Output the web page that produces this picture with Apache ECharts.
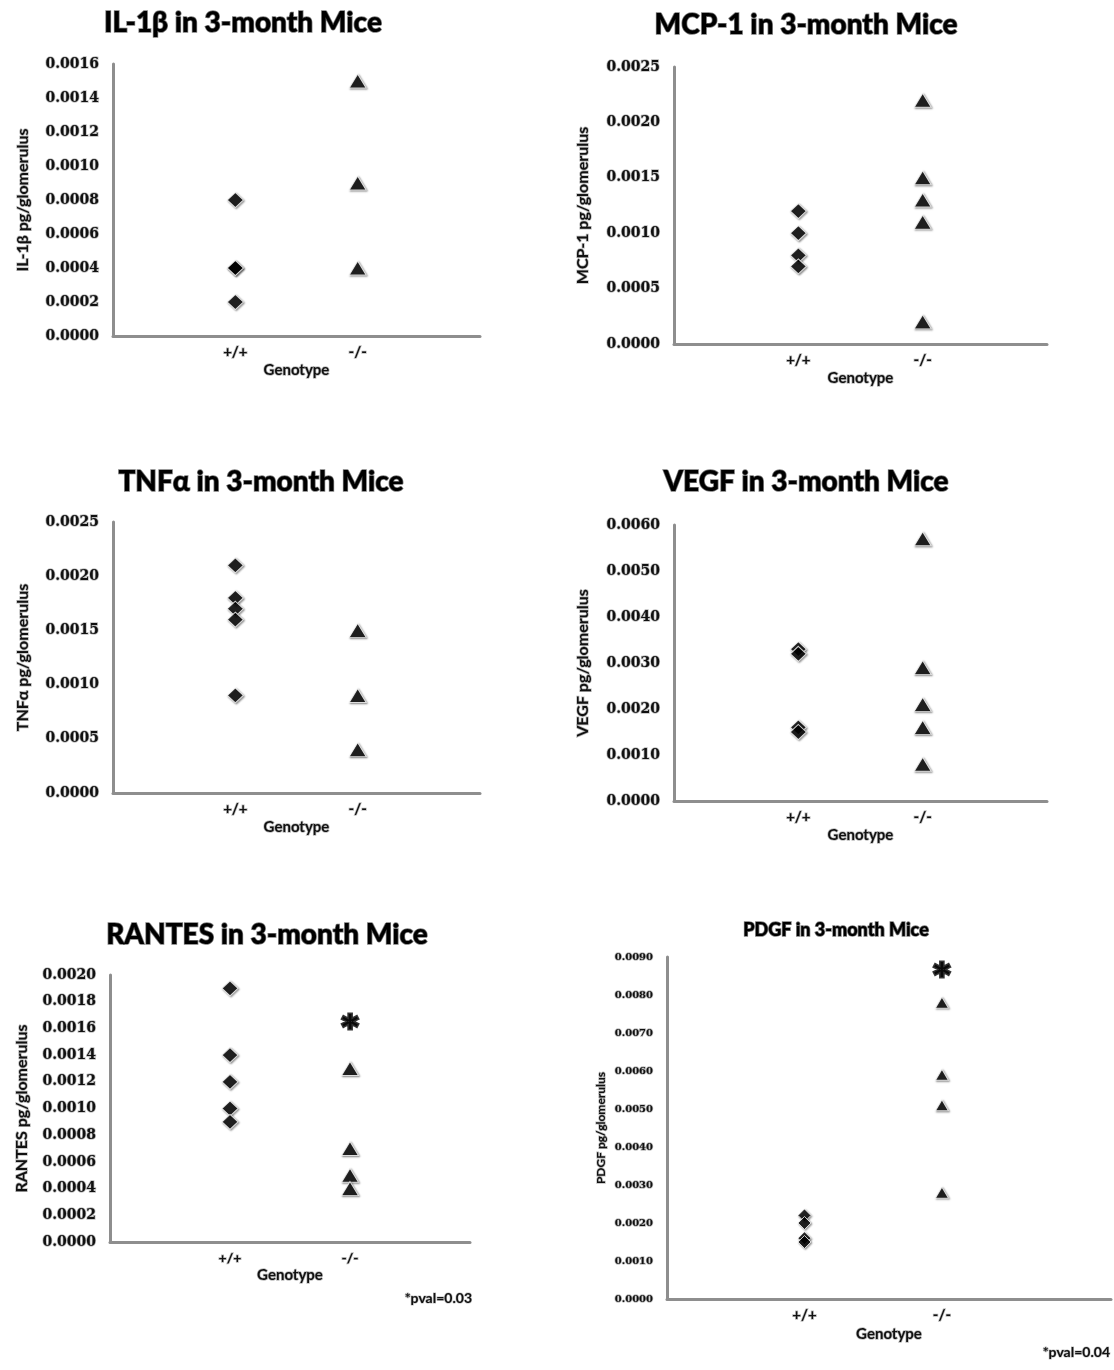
<!DOCTYPE html>
<html>
<head>
<meta charset="utf-8">
<script src="https://cdn.jsdelivr.net/npm/echarts@6/dist/echarts.min.js"></script>
<style>
html,body{margin:0;padding:0;background:#fff;}
#chart{width:1114px;height:1370px;}
</style>
</head>
<body>
<div id="chart"></div>
<script>
// ---- data ----
const genotypes = ['+/+', '-/-'];

const il1bWT = [0.0008, 0.0004, 0.0004, 0.0002];
const il1bKO = [0.0015, 0.0009, 0.0004];

const mcp1WT = [0.0012, 0.0010, 0.0008, 0.0007];
const mcp1KO = [0.0022, 0.0015, 0.0013, 0.0011, 0.0002];

const tnfWT = [0.0021, 0.0018, 0.0017, 0.0016, 0.0009];
const tnfKO = [0.0015, 0.0009, 0.0004];

const vegfWT = [0.0033, 0.0032, 0.0016, 0.0015];
const vegfKO = [0.0057, 0.0029, 0.0021, 0.0016, 0.0008];

const rantesWT = [0.0019, 0.0014, 0.0012, 0.0010, 0.0009];
const rantesKO = [0.0013, 0.0007, 0.0005, 0.0004];
const rantesStar = [0.00166];

const pdgfWT = [0.0022, 0.0020, 0.0016, 0.0015];
const pdgfKO = [0.0078, 0.0059, 0.0051, 0.0028];
const pdgfStar = [0.0087];

const titles = ['IL-1β in 3-month Mice', 'MCP-1 in 3-month Mice', 'TNFα in 3-month Mice',
                'VEGF in 3-month Mice', 'RANTES in 3-month Mice', 'PDGF in 3-month Mice'];
const yNames = ['IL-1β pg/glomerulus', 'MCP-1 pg/glomerulus', 'TNFα pg/glomerulus',
                'VEGF pg/glomerulus', 'RANTES pg/glomerulus', 'PDGF pg/glomerulus'];
const yMax = [0.0016, 0.0025, 0.0025, 0.0060, 0.0020, 0.0090];
const yStep = [0.0002, 0.0005, 0.0005, 0.0010, 0.0002, 0.0010];
const xName = 'Genotype';
const pvalNotes = ['*pval=0.03', '*pval=0.04'];

// ---- layout ----
const panels = [
  {wt: il1bWT, ko: il1bKO, star: null,
   grid: {left: 113, top: 64, width: 367, height: 272}, xMax: 3,
   title: [243, 23, 28], tickFont: 14, nameFont: 16, nameGap: 82, xFont: 15, xNameGap: 27},
  {wt: mcp1WT, ko: mcp1KO, star: null,
   grid: {left: 674, top: 67, width: 373, height: 277}, xMax: 3,
   title: [806, 25, 28], tickFont: 14, nameFont: 16, nameGap: 83, xFont: 15, xNameGap: 27},
  {wt: tnfWT, ko: tnfKO, star: null,
   grid: {left: 113, top: 522, width: 367, height: 271}, xMax: 3,
   title: [261, 482, 28], tickFont: 14, nameFont: 16, nameGap: 82, xFont: 15, xNameGap: 27},
  {wt: vegfWT, ko: vegfKO, star: null,
   grid: {left: 674, top: 525, width: 373, height: 276}, xMax: 3,
   title: [806, 482, 28], tickFont: 14, nameFont: 16, nameGap: 83, xFont: 15, xNameGap: 27},
  {wt: rantesWT, ko: rantesKO, star: rantesStar,
   grid: {left: 110, top: 975, width: 360, height: 267}, xMax: 3,
   title: [267, 935, 28], tickFont: 14, nameFont: 16, nameGap: 80, xFont: 14, xNameGap: 22},
  {wt: pdgfWT, ko: pdgfKO, star: pdgfStar,
   grid: {left: 667, top: 957, width: 447, height: 342}, xMax: 3.23,
   title: [836, 930, 18], tickFont: 10, nameFont: 12, nameGap: 60, xFont: 15, xNameGap: 28}
];

const axisGray = '#8e8e8e';
const halo = {textBorderColor: 'rgba(0,0,0,0.28)', textBorderWidth: 1.5};

const grids = [], xAxes = [], yAxes = [], series = [], graphics = [];
panels.forEach((p, i) => {
  grids.push(Object.assign({containLabel: false}, p.grid));
  xAxes.push({
    type: 'value', gridIndex: i, min: 0, max: p.xMax, interval: 1,
    axisLine: {show: true, onZero: false, lineStyle: {color: axisGray, width: 3}},
    axisTick: {show: false}, splitLine: {show: false},
    axisLabel: {
      margin: 9, color: '#111', fontFamily: 'Lato', fontWeight: 'bold', fontSize: p.xFont,
      formatter: v => (Number.isInteger(v) && genotypes[v - 1]) ? genotypes[v - 1] : '',
      ...halo
    },
    name: xName, nameLocation: 'middle', nameGap: p.xNameGap,
    nameTextStyle: {color: '#111', fontFamily: 'Lato', fontWeight: 'bold', fontSize: 15, ...halo}
  });
  yAxes.push({
    type: 'value', gridIndex: i, min: 0, max: yMax[i], interval: yStep[i],
    axisLine: {show: true, onZero: false, lineStyle: {color: axisGray, width: 3}},
    axisTick: {show: false}, splitLine: {show: false},
    axisLabel: {
      margin: 14, color: '#111', fontFamily: 'DejaVu Serif', fontWeight: 'bold', fontSize: p.tickFont,
      formatter: v => v.toFixed(4), ...halo
    },
    name: yNames[i], nameLocation: 'middle', nameGap: p.nameGap, nameRotate: 90,
    nameTextStyle: {color: '#111', fontFamily: 'Lato', fontWeight: 'bold', fontSize: p.nameFont, ...halo}
  });
  const small = i === 5;
  const mk = {
    color: '#000', borderColor: '#fff', borderWidth: 1,
    shadowColor: 'rgba(0,0,0,0.5)', shadowBlur: 2, shadowOffsetX: 1, shadowOffsetY: 1
  };
  series.push({
    type: 'scatter', xAxisIndex: i, yAxisIndex: i, symbol: 'diamond',
    symbolSize: small ? [13, 13] : [16, 15], itemStyle: mk,
    data: p.wt.map(v => [1, v]), z: 3
  });
  series.push({
    type: 'scatter', xAxisIndex: i, yAxisIndex: i, symbol: 'triangle',
    symbolSize: small ? [13, 11] : [17, 14], itemStyle: mk,
    data: p.ko.map(v => [2, v]), z: 3
  });
  if (p.star) {
    series.push({
      type: 'scatter', xAxisIndex: i, yAxisIndex: i, symbolSize: 1,
      itemStyle: {color: 'rgba(0,0,0,0)'},
      label: {show: true, position: 'inside', formatter: '*', color: '#000',
              fontFamily: 'DejaVu Sans', fontWeight: 'bold', fontSize: 32, offset: [0, 8],
              textBorderColor: '#000', textBorderWidth: 3},
      data: p.star.map(v => [2, v]), silent: true
    });
  }
  graphics.push({
    type: 'text', x: p.title[0], y: p.title[1],
    style: {text: titles[i], fill: '#000', font: '900 ' + p.title[2] + 'px Lato',
            textAlign: 'center', textVerticalAlign: 'middle',
            stroke: 'rgba(0,0,0,0.55)', lineWidth: 1.5}
  });
});

graphics.push({
  type: 'text', x: 472, y: 1298,
  style: {text: pvalNotes[0], fill: '#111', font: 'bold 14px Lato', textAlign: 'right', textVerticalAlign: 'middle',
          stroke: 'rgba(0,0,0,0.28)', lineWidth: 1.2}
});
graphics.push({
  type: 'text', x: 1110, y: 1352,
  style: {text: pvalNotes[1], fill: '#111', font: 'bold 14px Lato', textAlign: 'right', textVerticalAlign: 'middle',
          stroke: 'rgba(0,0,0,0.28)', lineWidth: 1.2}
});

const chart = echarts.init(document.getElementById('chart'), null, {renderer: 'canvas'});
chart.setOption({
  animation: false,
  backgroundColor: '#fff',
  grid: grids, xAxis: xAxes, yAxis: yAxes, series: series, graphic: graphics
});
</script>
</body>
</html>
